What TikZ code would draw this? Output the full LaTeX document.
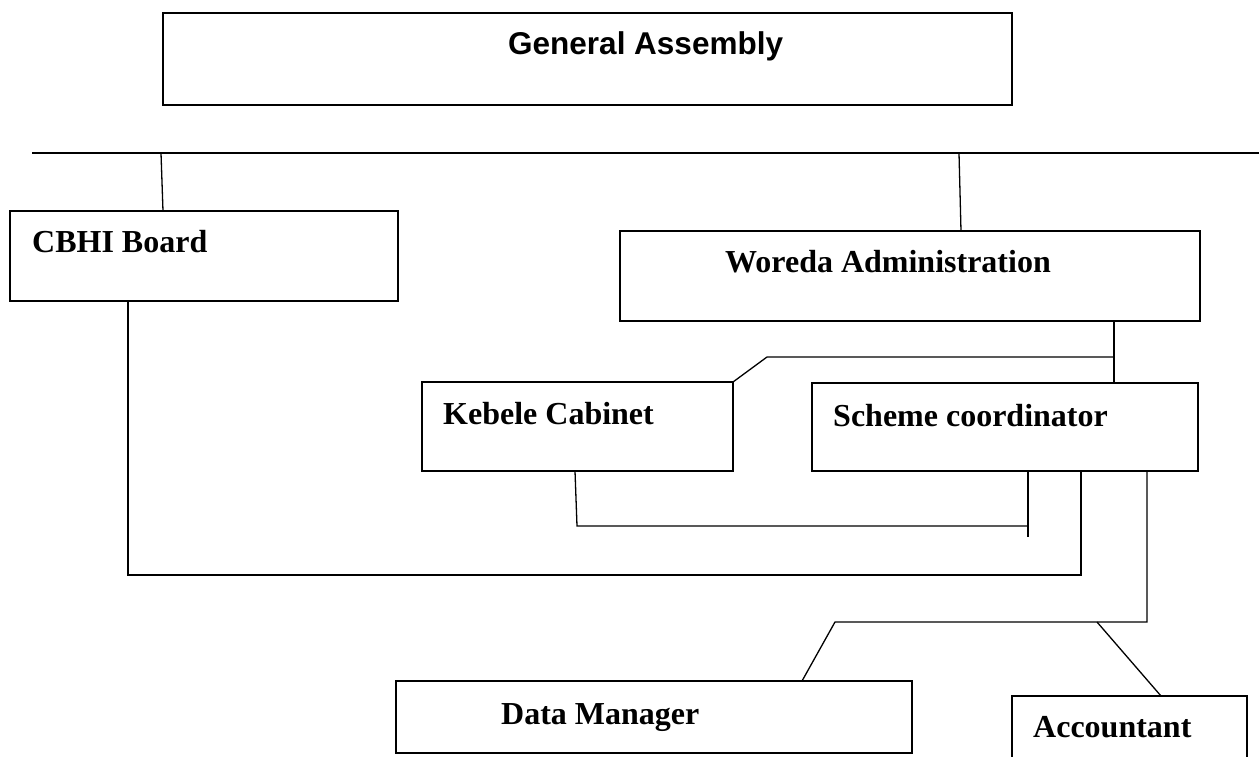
\documentclass[tikz,border=0pt]{standalone}
\usepackage{fontspec}
\setmainfont{Liberation Serif}
\newfontfamily\gasans{Liberation Sans}
\begin{document}
\begin{tikzpicture}[x=1pt,y=-1pt,
  box/.style={draw, line width=1.6pt, rectangle, inner sep=0pt, outer sep=0pt, anchor=north west},
  lbl/.style={anchor=base west, inner sep=0pt, font=\fontsize{32}{36}\selectfont\bfseries},
  galbl/.style={anchor=base west, inner sep=0pt, font=\fontsize{31.5}{36}\selectfont\gasans\bfseries},
  conn/.style={line width=1.3pt}]
\useasboundingbox (0,0) rectangle (1259,757);
\clip (0,0) rectangle (1259,757);
% boxes
\node[box, minimum width=849pt, minimum height=92pt] (ga) at (163,13) {};
\node[box, minimum width=388pt, minimum height=90pt] (cbhi) at (10,211) {};
\node[box, minimum width=580pt, minimum height=90pt] (wor) at (620,231) {};
\node[box, minimum width=311pt, minimum height=89pt] (keb) at (422,382) {};
\node[box, minimum width=386pt, minimum height=88pt] (sch) at (812,383) {};
\node[box, minimum width=516pt, minimum height=72pt] (dm) at (396,681) {};
\node[box, minimum width=235pt, minimum height=80pt] (acc) at (1012,696) {};
% labels
\node[galbl] (tga) at (508,55) {General Assembly};
\node[lbl] (tcbhi) at (32,252) {CBHI Board};
\node[lbl] (twor) at (725,272) {Woreda Administration};
\node[lbl] (tkeb) at (443,424) {Kebele Cabinet};
\node[lbl] (tsch) at (833,426) {Scheme coordinator};
\node[lbl] (tdm) at (501,724) {Data Manager};
\node[lbl] (tacc) at (1033,737) {Accountant};
% coordinates of free ends
\coordinate (busL) at (32,153);
\coordinate (busR) at (1259,153);
\coordinate (b1) at (161,153);
\coordinate (b2) at (959,153);
\coordinate (k1) at (767,357);
\coordinate (w1) at (1114,357);
\coordinate (kb) at (577,526);
\coordinate (kc) at (1028,526);
\coordinate (kd) at (1028,537);
\coordinate (c1) at (128,575);
\coordinate (c2) at (1081,575);
\coordinate (s1) at (1147,622);
\coordinate (s2) at (835,622);
\coordinate (s3) at (1097,622);
% connectors
\draw[conn, line width=1.6pt] (busL) -- (busR);
\draw[conn] (b1) -- ([xshift=153pt]cbhi.north west);
\draw[conn] (b2) -- ([xshift=341pt]wor.north west);
\draw[conn] ([xshift=494pt]wor.south west) -- ([xshift=302pt]sch.north west);
\draw[conn] (keb.north east) -- (k1) -- (w1);
\draw[conn] ([xshift=153pt]keb.south west) -- (kb) -- (kc);
\draw[conn] ([xshift=216pt]sch.south west) -- (kd);
\draw[conn] ([xshift=118pt]cbhi.south west) -- (c1) -- (c2) -- ([xshift=269pt]sch.south west);
\draw[conn] ([xshift=335pt]sch.south west) -- (s1) -- (s2) -- ([xshift=406pt]dm.north west);
\draw[conn] (s3) -- ([xshift=149pt]acc.north west);
\end{tikzpicture}
\end{document}
